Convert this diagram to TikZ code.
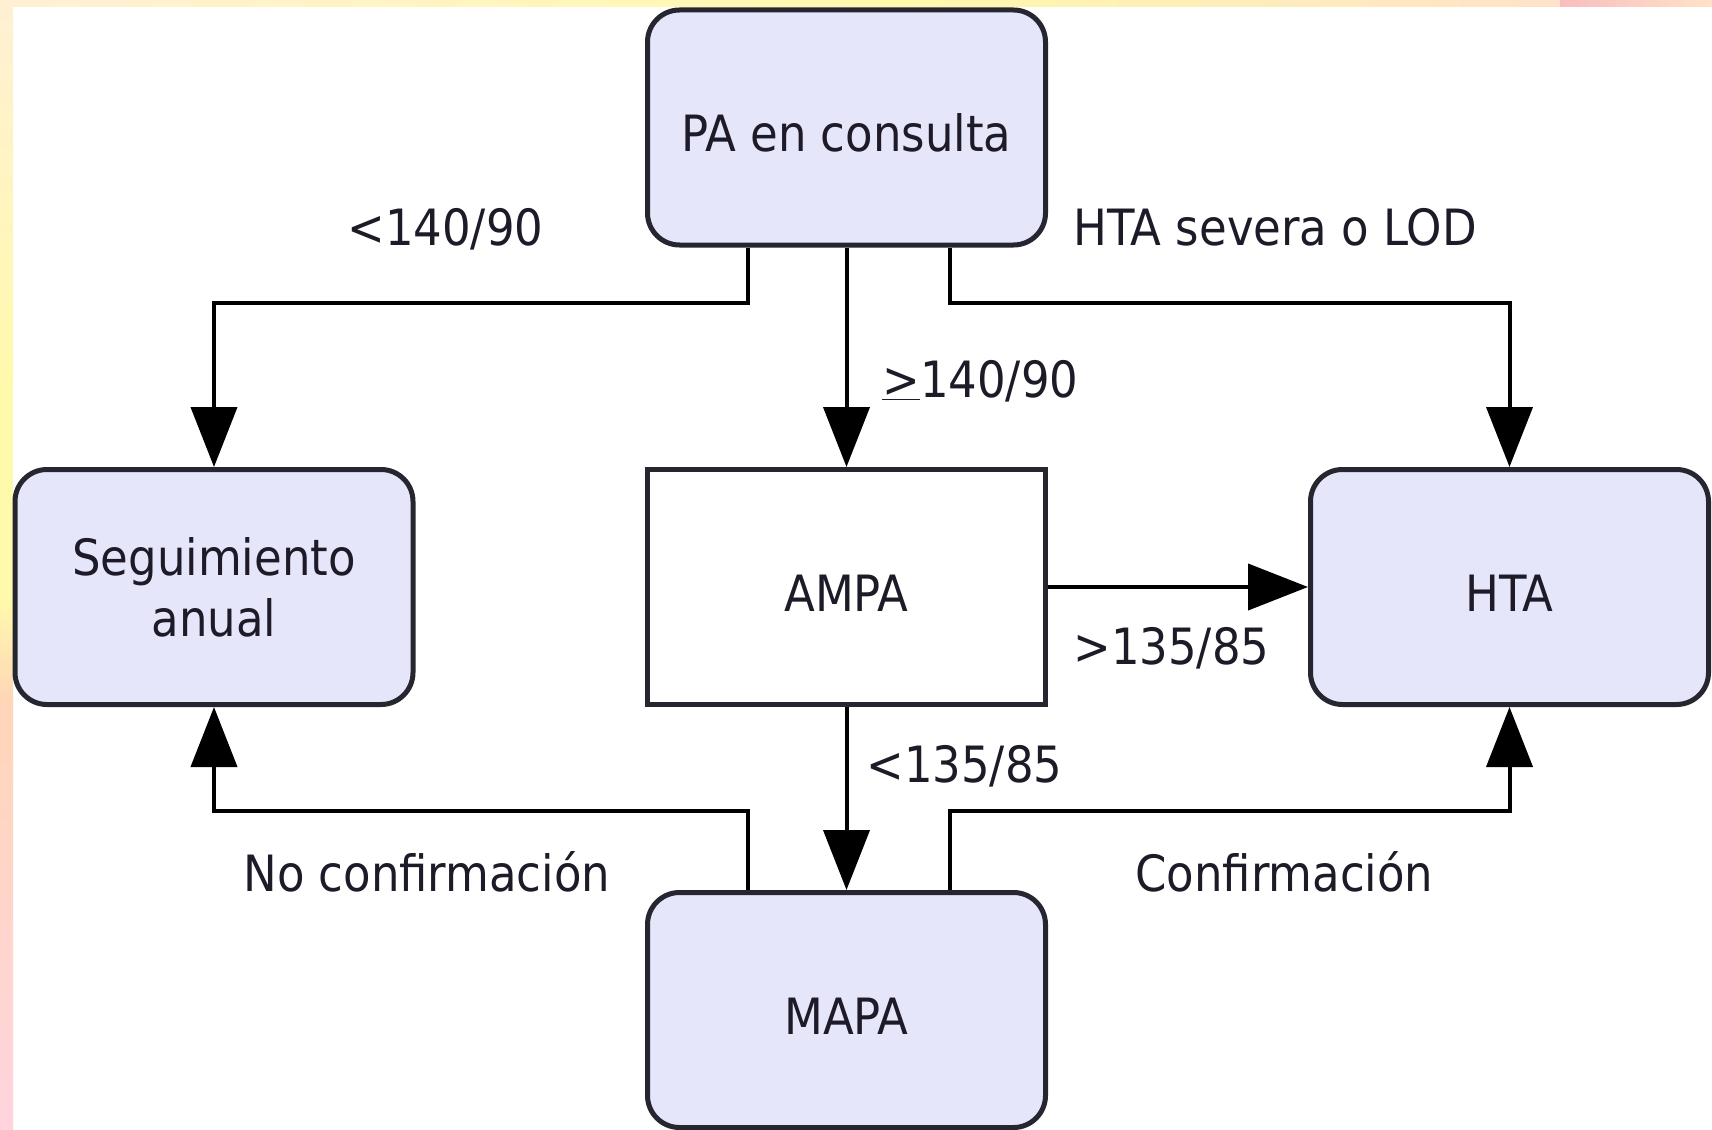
\documentclass[tikz,border=0pt]{standalone}
\usepackage{fontspec}
\setmainfont{DejaVu Sans Condensed}
\usetikzlibrary{arrows.meta,calc}
\definecolor{boxfill}{RGB}{230,230,250}
\definecolor{boxline}{RGB}{38,38,48}
\definecolor{txt}{RGB}{30,26,40}
\definecolor{bgA}{RGB}{255,240,212}
\definecolor{bgB}{RGB}{255,249,172}
\definecolor{bgC}{RGB}{255,214,184}
\definecolor{bgD}{RGB}{255,212,222}
\definecolor{bgE}{RGB}{248,190,190}
\definecolor{bgF}{RGB}{255,226,200}
\tikzset{
  flowbox/.style={draw=boxline, line width=2.5pt, fill=boxfill, rounded corners=16pt,
    minimum width=199pt, minimum height=117.5pt, inner sep=0pt, align=center,
    text=txt, font=\fontsize{25pt}{30.5pt}\selectfont},
  onel/.style={text height=24pt, text depth=0pt},
  sqbox/.style={flowbox, fill=white, rounded corners=0pt},
  conn/.style={draw=black, line width=2pt,
    -{Triangle[length=30pt,width=23pt]}},
  lbl/.style={anchor=base west, inner sep=0pt, text=txt,
    font=\fontsize{25pt}{30.5pt}\selectfont}
}
\begin{document}
\begin{tikzpicture}[x=0.5pt,y=-0.5pt]
\useasboundingbox (0,0) rectangle (1712,1129);
% background frame
\fill[white] (0,0) rectangle (1712,1129);
\shade[top color=bgA, bottom color=bgB] (0,0) rectangle (13,380);
\fill[bgB] (0,380) rectangle (13,600);
\shade[top color=bgB, bottom color=bgC] (0,600) rectangle (13,700);
\shade[top color=bgC, bottom color=bgD] (0,700) rectangle (13,1129);
\shade[left color=bgA, right color=bgB] (0,0) rectangle (900,7);
\shade[left color=bgB, right color=bgF] (900,0) rectangle (1560,7);
\shade[left color=bgE, right color=bgF] (1560,0) rectangle (1712,7);

% boxes
\node[flowbox, onel] (pa) at (846.5,127.5) {PA en consulta};
\node[flowbox] (seg) at (214,587) {Seguimiento\\anual};
\node[sqbox, onel] (ampa) at (846.5,587) {AMPA};
\node[flowbox, onel] (hta) at (1509.5,587) {HTA};
\node[flowbox, onel] (mapa) at (846.5,1010) {MAPA};

% connectors
\draw[conn] ($(pa.south)+(-99,0)$) -- ++(0,55) -| (seg.north);
\draw[conn] (pa.south) -- (ampa.north);
\draw[conn] ($(pa.south)+(103,0)$) -- ++(0,55) -| (hta.north);
\draw[conn] (ampa.east) -- (hta.west);
\draw[conn] (ampa.south) -- (mapa.north);
\draw[conn] ($(mapa.north)+(-99,0)$) -- ++(0,-79) -| (seg.south);
\draw[conn] ($(mapa.north)+(103,0)$) -- ++(0,-79) -| (hta.south);

% labels
\node[lbl] (l1) at (347,245) {<140/90};
\node[lbl] (l2) at (1073,245) {HTA severa o LOD};
\node[lbl] (l3) at (882,397) {\underline{>}140/90};
\node[lbl] (l4) at (1073,664) {>135/85};
\node[lbl] (l5) at (866,782) {<135/85};
\node[lbl] (l6) at (243,891) {No confirmación};
\node[lbl] (l7) at (1135,891) {Confirmación};
\end{tikzpicture}
\end{document}
